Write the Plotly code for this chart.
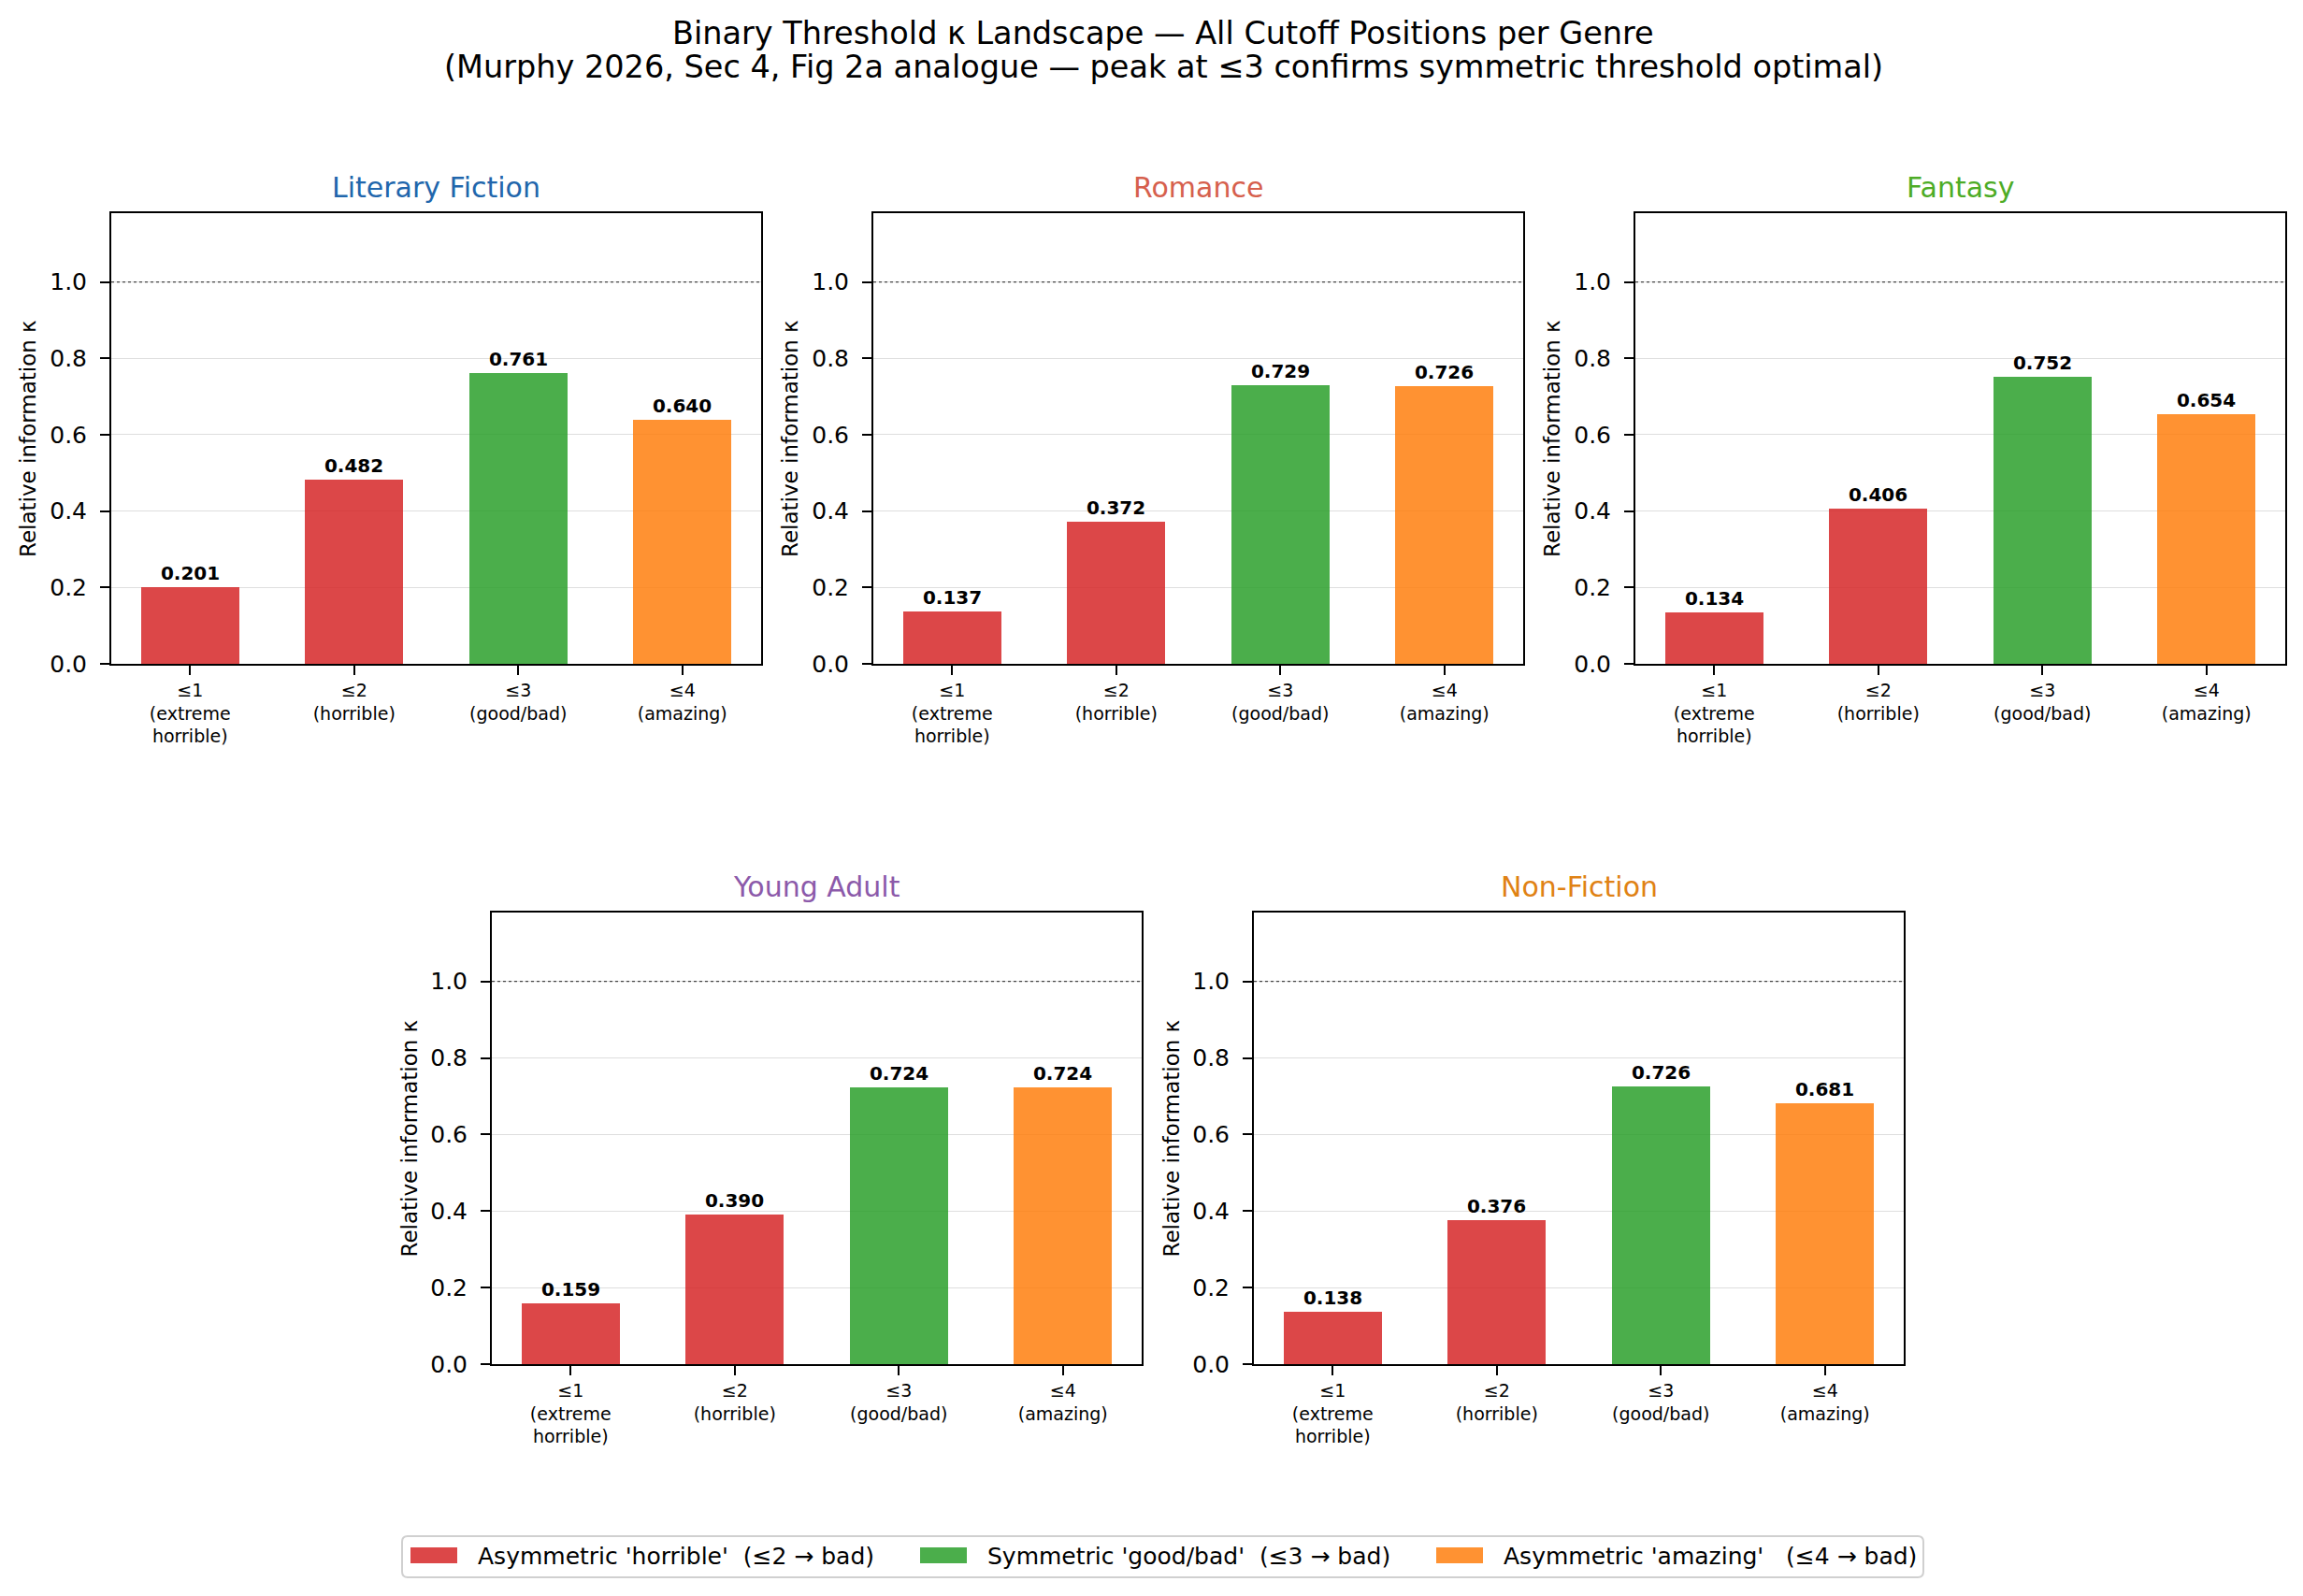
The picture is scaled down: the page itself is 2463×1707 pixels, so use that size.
import plotly.graph_objects as go

# ---------------- data ----------------
genres = ["Literary Fiction", "Romance", "Fantasy", "Young Adult", "Non-Fiction"]
title_colors = ["#2166ac", "#d6604d", "#4dac26", "#8c5aaa", "#e08214"]
cutoff_labels = ["≤1<br>(extreme<br>horrible)", "≤2<br>(horrible)", "≤3<br>(good/bad)", "≤4<br>(amazing)"]
kappa_lit = [0.201, 0.482, 0.761, 0.640]
kappa_rom = [0.137, 0.372, 0.729, 0.726]
kappa_fan = [0.134, 0.406, 0.752, 0.654]
kappa_ya = [0.159, 0.390, 0.724, 0.724]
kappa_nf = [0.138, 0.376, 0.726, 0.681]
all_kappa = [kappa_lit, kappa_rom, kappa_fan, kappa_ya, kappa_nf]

legend_names = ["Asymmetric 'horrible'  (≤2 → bad)",
                "Symmetric 'good/bad'  (≤3 → bad)",
                "Asymmetric 'amazing'   (≤4 → bad)"]
group_idx = [[0, 1], [2], [3]]
group_colors = ["rgba(214,39,40,0.85)", "rgba(44,160,44,0.85)", "rgba(255,127,14,0.85)"]

W, H = 2463, 1707
HE = 1692  # effective rendered paper height used for placement
# axes boxes in pixels: (left, right, top, bottom)
boxes = [
    (119, 814, 228, 710),
    (934, 1629, 228, 710),
    (1749, 2444, 228, 710),
    (526, 1221, 976, 1459),
    (1341, 2036, 976, 1459),
]


def px(x):
    return x / W


def py(y):
    return 1 - y / HE


FONT = "DejaVu Sans"
fig = go.Figure()
annotations = []
shapes = []
layout_axes = {}

for i, (g, vals) in enumerate(zip(genres, all_kappa)):
    n = i + 1
    xa = "x" if n == 1 else f"x{n}"
    ya = "y" if n == 1 else f"y{n}"
    l, r, t, b = boxes[i]
    for name, idx, col in zip(legend_names, group_idx, group_colors):
        ys = [vals[k] for k in idx]
        fig.add_trace(go.Bar(
            x=idx, y=ys, width=0.6, name=name, legendgroup=name,
            showlegend=False,
            marker=dict(color=col, line=dict(width=0)),
            text=[f"{v:.3f}" for v in ys], textposition="outside",
            textfont=dict(family=FONT, size=20, color="black", weight="bold"),
            constraintext="none", cliponaxis=False,
            xaxis=xa, yaxis=ya,
        ))
    axis_key = "xaxis" if n == 1 else f"xaxis{n}"
    yaxis_key = "yaxis" if n == 1 else f"yaxis{n}"
    layout_axes[axis_key] = dict(
        domain=[px(l), px(r)], anchor=ya, range=[-0.48, 3.48],
        tickmode="array", tickvals=[0, 1, 2, 3], ticktext=cutoff_labels,
        ticks="outside", ticklen=10, tickwidth=2, tickcolor="black",
        tickfont=dict(family=FONT, size=19, color="black"),
        showline=True, linecolor="black", linewidth=2, mirror=True,
        showgrid=False, zeroline=False,
    )
    layout_axes[yaxis_key] = dict(
        domain=[py(b), py(t)], anchor=xa, range=[0, 1.18],
        tickmode="linear", tick0=0, dtick=0.2, tickformat=".1f",
        ticks="outside", ticklen=10, tickwidth=2, tickcolor="black",
        ticklabelstandoff=9,
        tickfont=dict(family=FONT, size=25, color="black"),
        showline=True, linecolor="black", linewidth=2, mirror=True,
        showgrid=True, gridcolor="#dedede", gridwidth=1, zeroline=False,
    )
    # subplot title
    annotations.append(dict(
        text=g, xref="paper", yref="paper", x=px((l + r) / 2), y=py(t - 27),
        xanchor="center", yanchor="middle", showarrow=False,
        font=dict(family=FONT, size=30, color=title_colors[i]),
    ))
    # y label
    annotations.append(dict(
        text="Relative information κ", xref="paper", yref="paper",
        x=px(l - 89), y=py((t + b) / 2), textangle=-90,
        xanchor="center", yanchor="middle", showarrow=False,
        font=dict(family=FONT, size=23, color="black"),
    ))
    # reference line at kappa = 1
    shapes.append(dict(
        type="line", xref=f"{xa} domain", yref=ya, x0=0, x1=1, y0=1.0, y1=1.0,
        line=dict(color="#444444", width=1.2, dash="dot"), layer="above",
    ))

# figure title
annotations.append(dict(
    text="Binary Threshold κ Landscape — All Cutoff Positions per Genre",
    xref="paper", yref="paper", x=px(1244), y=py(35), xanchor="center", yanchor="middle",
    showarrow=False, font=dict(family=FONT, size=33.5, color="black"),
))
annotations.append(dict(
    text="(Murphy 2026, Sec 4, Fig 2a analogue — peak at ≤3 confirms symmetric threshold optimal)",
    xref="paper", yref="paper", x=px(1244), y=py(72), xanchor="center", yanchor="middle",
    showarrow=False, font=dict(family=FONT, size=33.5, color="black"),
))

# legend (frame, patches, labels)
lx0, lx1, ly0, ly1, rad = 430, 2057, 1643, 1687, 6
rx, ry = rad / W, rad / HE
X0, X1, Y0, Y1 = px(lx0), px(lx1), py(ly0), py(ly1)
path = (f"M{X0 + rx},{Y0} L{X1 - rx},{Y0} Q{X1},{Y0} {X1},{Y0 - ry} "
        f"L{X1},{Y1 + ry} Q{X1},{Y1} {X1 - rx},{Y1} L{X0 + rx},{Y1} "
        f"Q{X0},{Y1} {X0},{Y1 + ry} L{X0},{Y0 - ry} Q{X0},{Y0} {X0 + rx},{Y0} Z")
shapes.append(dict(type="path", xref="paper", yref="paper", path=path,
                   line=dict(color="#d0d0d0", width=2), fillcolor="white", layer="above"))
patch_x = [439, 984, 1536]
for name, col, x0 in zip(legend_names, group_colors, patch_x):
    shapes.append(dict(type="rect", xref="paper", yref="paper",
                       x0=px(x0), x1=px(x0 + 50), y0=py(1672), y1=py(1655),
                       fillcolor=col, line=dict(width=0), layer="above"))
    annotations.append(dict(
        text=name, xref="paper", yref="paper", x=px(x0 + 70), y=py(1664),
        xanchor="left", yanchor="middle", showarrow=False,
        font=dict(family=FONT, size=25, color="black"),
    ))

fig.update_layout(
    width=W, height=H, margin=dict(l=0, r=0, t=0, b=0),
    paper_bgcolor="white", plot_bgcolor="white",
    barmode="overlay", bargap=0, showlegend=False,
    annotations=annotations, shapes=shapes,
    **layout_axes,
)

fig.write_html("out.html")
